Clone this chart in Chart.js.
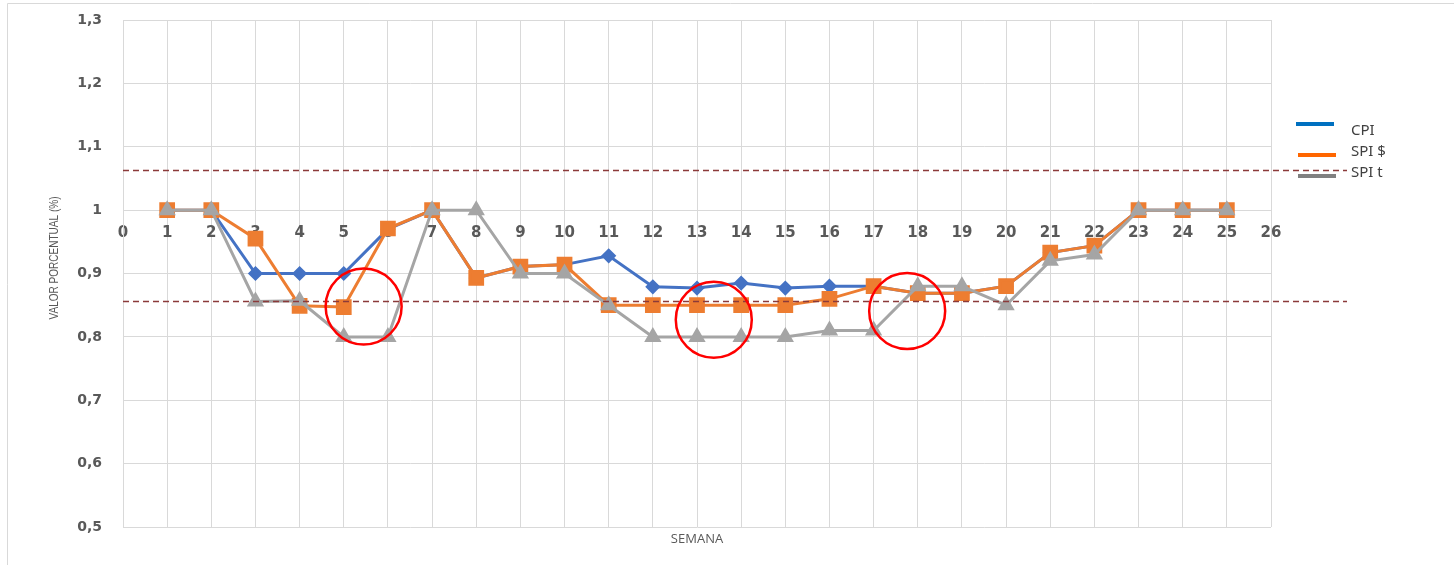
<!DOCTYPE html>
<html>
<head>
<meta charset="utf-8">
<title>CPI / SPI por semana</title>
<script src="https://cdn.jsdelivr.net/npm/chart.js@4.4.0/dist/chart.umd.min.js"></script>
<style>
    html, body { margin: 0; padding: 0; background: #fff; }
    #wrap { position: relative; width: 1454px; height: 565px; }
</style>
</head>
<body>
<div id="wrap"><canvas id="chart" width="1454" height="565"></canvas></div>
<script>
// weeks 1..25
const weeks = [1, 2, 3, 4, 5, 6, 7, 8, 9, 10, 11, 12, 13, 14, 15, 16, 17, 18, 19, 20, 21, 22, 23, 24, 25];

const cpi = [1, 1, 0.9, 0.9, 0.9, 0.97, 1, 0.893, 0.911, 0.914, 0.928, 0.879, 0.877, 0.885, 0.877, 0.88, 0.88, 0.869, 0.869, 0.88, 0.933, 0.944, 1, 1, 1];
const spiCost = [1, 1, 0.955, 0.849, 0.847, 0.971, 1, 0.893, 0.911, 0.914, 0.85, 0.85, 0.85, 0.85, 0.85, 0.86, 0.88, 0.869, 0.869, 0.88, 0.933, 0.944, 1, 1, 1];
const spiTime = [1, 1, 0.856, 0.857, 0.8, 0.8, 1, 1, 0.9, 0.9, 0.85, 0.8, 0.8, 0.8, 0.8, 0.81, 0.81, 0.88, 0.88, 0.85, 0.92, 0.93, 1, 1, 1];

const seriesNames = ["CPI", "SPI $", "SPI t"];

// control limits (dashed lines)
const limits = [1.064, 0.856];

// highlighted spots [week, value]
const highlights = [[5.45, 0.848], [13.38, 0.827], [17.76, 0.841]];

const toPoints = (arr) => weeks.map((w, i) => ({ x: w, y: arr[i] }));

const GRID = "#d9d9d9";
const TEXT = "#595959";

const framePlugin = {
    id: "frame",
    beforeDraw(chart) {
        const ctx = chart.ctx;
        ctx.save();
        ctx.strokeStyle = GRID;
        ctx.lineWidth = 1;
        ctx.beginPath();
        ctx.moveTo(7.5, 565);
        ctx.lineTo(7.5, 3.5);
        ctx.lineTo(1454, 3.5);
        ctx.stroke();
        ctx.restore();
    },
};

const limitsPlugin = {
    id: "limits",
    afterDatasetsDraw(chart) {
        const { ctx, chartArea, scales } = chart;
        ctx.save();
        ctx.strokeStyle = "#8b3a3a";
        ctx.lineWidth = 1.5;
        ctx.setLineDash([6, 4]);
        limits.forEach((v) => {
            const y = Math.round(scales.y.getPixelForValue(v)) + 0.5;
            ctx.beginPath();
            ctx.moveTo(chartArea.left, y);
            ctx.lineTo(1347, y);
            ctx.stroke();
        });
        ctx.setLineDash([]);
        ctx.strokeStyle = "#ff0000";
        ctx.lineWidth = 2.5;
        highlights.forEach(([wx, wy]) => {
            ctx.beginPath();
            ctx.arc(scales.x.getPixelForValue(wx), scales.y.getPixelForValue(wy), 38, 0, Math.PI * 2);
            ctx.stroke();
        });
        ctx.restore();
    },
};

const legendSwatch = ["#0070c0", "#ff6600", "#808080"];

// draw text squeezed to a given width (narrow font is not installed)
const fitText = (ctx, text, x, y, width) => {
    const w = ctx.measureText(text).width;
    ctx.save();
    ctx.translate(x, y);
    ctx.scale(Math.min(1, width / w), 1);
    ctx.fillText(text, 0, 0);
    ctx.restore();
};

const labelsPlugin = {
    id: "labels",
    afterDraw(chart) {
        const ctx = chart.ctx;
        ctx.save();

        // legend
        const rows = [
            { line: 124, text: 131, x0: 1296 },
            { line: 155, text: 152, x0: 1298 },
            { line: 176, text: 173, x0: 1298 },
        ];
        ctx.font = "15px 'Noto Sans', 'Liberation Sans', sans-serif";
        ctx.textBaseline = "middle";
        ctx.textAlign = "left";
        rows.forEach((r, i) => {
            ctx.fillStyle = legendSwatch[i];
            ctx.fillRect(r.x0, r.line - 2, 38, 4);
            ctx.fillStyle = "#404040";
            ctx.fillText(seriesNames[i], 1351, r.text);
        });

        // axis titles
        ctx.fillStyle = TEXT;
        ctx.textAlign = "center";
        ctx.font = "13px 'Open Sans', 'Liberation Sans', sans-serif";
        fitText(ctx, "SEMANA", 697, 539, 63);

        ctx.translate(55, 258);
        ctx.rotate(-Math.PI / 2);
        ctx.font = "12px 'Liberation Sans', sans-serif";
        fitText(ctx, "VALOR PORCENTUAL (%)", 0, 0, 123);
        ctx.restore();
    },
};

document.addEventListener("DOMContentLoaded", () => {
    const ctx = document.querySelector("#chart");

    new Chart(ctx, {
        type: "line",
        data: {
            datasets: [
                {
                    label: seriesNames[0],
                    data: toPoints(cpi),
                    borderColor: "#4472c4",
                    backgroundColor: "#4472c4",
                    borderWidth: 3,
                    pointStyle: "rectRot",
                    pointRadius: 5.5,
                    order: 3,
                },
                {
                    label: seriesNames[1],
                    data: toPoints(spiCost),
                    borderColor: "#ed7d31",
                    backgroundColor: "#ed7d31",
                    borderWidth: 3,
                    pointStyle: "rect",
                    pointRadius: 9,
                    order: 2,
                },
                {
                    label: seriesNames[2],
                    data: toPoints(spiTime),
                    borderColor: "#a5a5a5",
                    backgroundColor: "#a5a5a5",
                    borderWidth: 3,
                    pointStyle: "triangle",
                    pointRadius: 7,
                    order: 1,
                },
            ],
        },
        options: {
            responsive: false,
            animation: false,
            layout: {
                padding: { left: 0, top: 20, right: 183, bottom: 38 },
            },
            scales: {
                x: {
                    type: "linear",
                    min: 0,
                    max: 26,
                    position: { y: 1 },
                    grid: {
                        color: GRID,
                        drawTicks: false,
                    },
                    border: { color: GRID },
                    ticks: {
                        stepSize: 1,
                        autoSkip: false,
                        maxRotation: 0,
                        padding: 14,
                        color: TEXT,
                        font: { family: "'DejaVu Sans', sans-serif", size: 15, weight: "bold" },
                        callback: (v) => String(v),
                    },
                },
                y: {
                    min: 0.5,
                    max: 1.3,
                    grid: {
                        color: GRID,
                        drawTicks: false,
                    },
                    border: { color: GRID },
                    afterFit: (scale) => {
                        scale.width = 123;
                        scale.paddingTop = 0;
                        scale.paddingBottom = 0;
                    },
                    ticks: {
                        stepSize: 0.1,
                        padding: 21,
                        color: TEXT,
                        font: { family: "'DejaVu Sans', sans-serif", size: 14, weight: "bold" },
                        callback: (v) => String(Math.round(v * 10) / 10).replace(".", ","),
                    },
                },
            },
            plugins: {
                legend: { display: false },
                tooltip: { enabled: false },
            },
        },
        plugins: [framePlugin, limitsPlugin, labelsPlugin],
    });
});
</script>
</body>
</html>
